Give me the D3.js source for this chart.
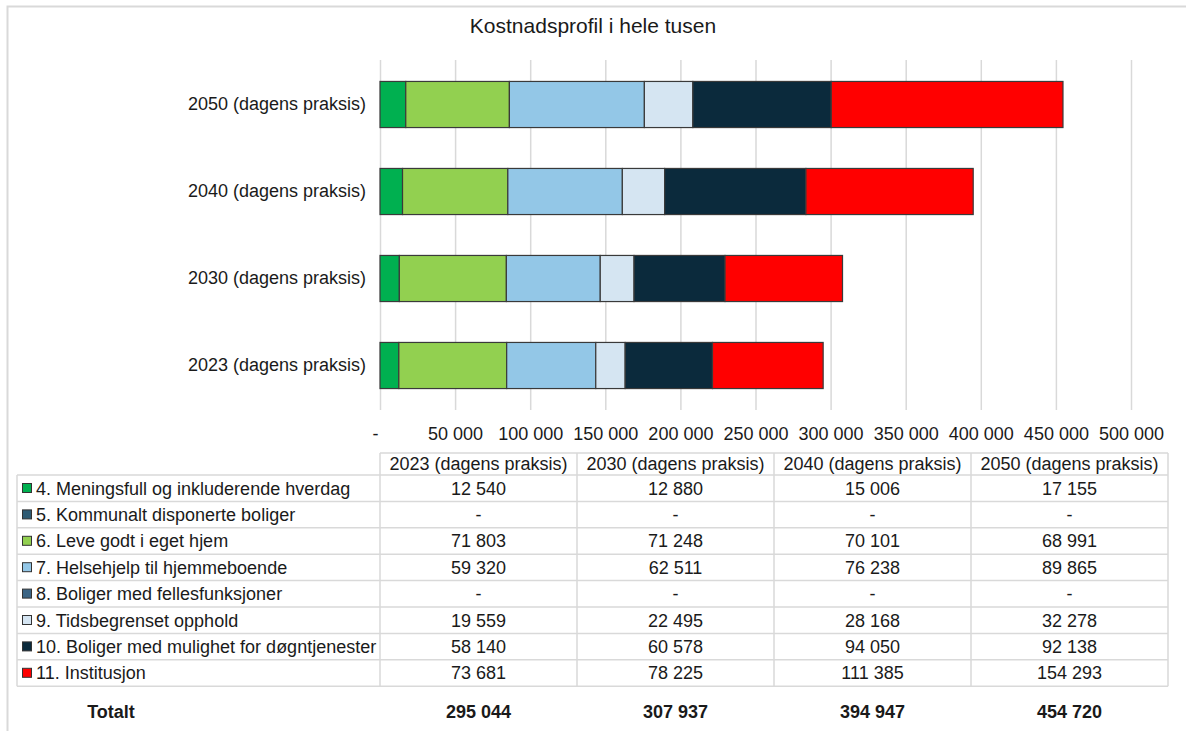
<!DOCTYPE html>
<html>
<head>
<meta charset="utf-8">
<script src="https://cdn.jsdelivr.net/npm/d3@7"></script>
<style>
  body { margin: 0; background: #fff; }
  svg text { font-family: "Liberation Sans", Arial, sans-serif; fill: #1a1a1a; }
</style>
</head>
<body>
<svg id="chart" width="1186" height="731"></svg>
<script>
// scenarios (table column order) and bar order top-to-bottom
const scenarios = ["2023 (dagens praksis)", "2030 (dagens praksis)", "2040 (dagens praksis)", "2050 (dagens praksis)"];
const barOrder = ["2050 (dagens praksis)", "2040 (dagens praksis)", "2030 (dagens praksis)", "2023 (dagens praksis)"];

const seriesNames = [
  "4. Meningsfull og inkluderende hverdag",
  "5. Kommunalt disponerte boliger",
  "6. Leve godt i eget hjem",
  "7. Helsehjelp til hjemmeboende",
  "8. Boliger med fellesfunksjoner",
  "9. Tidsbegrenset opphold",
  "10. Boliger med mulighet for døgntjenester",
  "11. Institusjon"
];
const seriesColors = ["#00b050", "#2e5b73", "#92d050", "#93c7e7", "#3b6585", "#d5e5f2", "#0b2a3c", "#ff0000"];

// values per series, in scenario order 2023, 2030, 2040, 2050
const meningsfull = [12540, 12880, 15006, 17155];
const kommunalt   = [0, 0, 0, 0];
const leveGodt    = [71803, 71248, 70101, 68991];
const helsehjelp  = [59320, 62511, 76238, 89865];
const fellesfunk  = [0, 0, 0, 0];
const tidsbegr    = [19559, 22495, 28168, 32278];
const dogntjen    = [58140, 60578, 94050, 92138];
const institusjon = [73681, 78225, 111385, 154293];
const totals      = [295044, 307937, 394947, 454720];

const seriesValues = [meningsfull, kommunalt, leveGodt, helsehjelp, fellesfunk, tidsbegr, dogntjen, institusjon];
const xTicks = [0, 50000, 100000, 150000, 200000, 250000, 300000, 350000, 400000, 450000, 500000];

const nb = d3.formatLocale({ thousands: "\u00a0", grouping: [3], decimal: ",", currency: ["", ""] });
const fmt = v => v === 0 ? "-" : nb.format(",.0f")(v);

const svg = d3.select("#chart");

// outer frame
svg.append("rect")
  .attr("x", 7.5).attr("y", 6.5).attr("width", 1190).attr("height", 740)
  .attr("fill", "none").attr("stroke", "#d9d9d9").attr("stroke-width", 2);

svg.append("text")
  .attr("x", 593).attr("y", 33).attr("text-anchor", "middle")
  .style("font-size", "21px")
  .text("Kostnadsprofil i hele tusen");

// scales
const x = d3.scaleLinear().domain([0, 500000]).range([380, 1131]);
const y = d3.scaleBand().domain(barOrder).range([61, 409]).paddingInner(0.47).paddingOuter(0.235);

// gridlines
svg.append("g").selectAll("line").data(xTicks).join("line")
  .attr("x1", d => x(d) + 0.5).attr("x2", d => x(d) + 0.5)
  .attr("y1", 60).attr("y2", 410)
  .attr("stroke", "#d9d9d9").attr("stroke-width", 1.5);

// x axis labels
const xAxis = svg.append("g")
  .attr("transform", "translate(0,424)")
  .call(d3.axisBottom(x).tickValues(xTicks).tickSize(0).tickFormat(fmt));
xAxis.select(".domain").remove();
xAxis.selectAll("text").style("font-size", "18px").attr("fill", "#1a1a1a")
  .attr("font-family", "Liberation Sans, Arial, sans-serif");
xAxis.selectAll(".tick text").filter(d => d === 0).attr("dx", -5);

// y axis labels
const yAxis = svg.append("g")
  .attr("transform", "translate(366,0)")
  .call(d3.axisLeft(y).tickSize(0).tickPadding(0));
yAxis.select(".domain").remove();
yAxis.selectAll("text").style("font-size", "18px").attr("fill", "#1a1a1a")
  .attr("font-family", "Liberation Sans, Arial, sans-serif");

// stacked bars
const rows = scenarios.map((s, i) => {
  const r = { scenario: s };
  seriesNames.forEach((n, j) => r[n] = seriesValues[j][i]);
  return r;
});
const stacked = d3.stack().keys(seriesNames)(rows);

svg.append("g").selectAll("g").data(stacked).join("g")
  .attr("fill", (d, i) => seriesColors[i])
  .selectAll("rect").data(d => d.filter(p => p[1] - p[0] > 0)).join("rect")
  .attr("x", d => x(d[0]))
  .attr("width", d => x(d[1]) - x(d[0]))
  .attr("y", d => y(d.data.scenario))
  .attr("height", y.bandwidth())
  .attr("stroke", "#3a3a3a").attr("stroke-width", 1.2);

// data table
const colX = d3.scaleBand().domain(scenarios).range([380, 1168]);
const headerTop = 453, rowTop = 475, rowH = 26.4;
const tableBottom = rowTop + rowH * seriesNames.length;
const grid = svg.append("g").attr("stroke", "#d9d9d9").attr("stroke-width", 1.5);

// header cells
grid.append("line").attr("x1", 380).attr("x2", 1168).attr("y1", headerTop).attr("y2", headerTop);
// horizontal row lines
grid.selectAll(".hr").data(d3.range(seriesNames.length + 1)).join("line")
  .attr("x1", 17).attr("x2", 1168)
  .attr("y1", i => rowTop + i * rowH).attr("y2", i => rowTop + i * rowH);
// vertical lines
grid.append("line").attr("x1", 17).attr("x2", 17).attr("y1", rowTop).attr("y2", tableBottom);
grid.selectAll(".vr").data(scenarios.concat(["end"])).join("line")
  .attr("x1", d => d === "end" ? 1168 : colX(d)).attr("x2", d => d === "end" ? 1168 : colX(d))
  .attr("y1", headerTop).attr("y2", tableBottom);

svg.append("g").selectAll("text").data(scenarios).join("text")
  .attr("x", d => colX(d) + colX.bandwidth() / 2).attr("y", headerTop + 17)
  .attr("text-anchor", "middle").style("font-size", "18px")
  .text(d => d);

// legend keys and series labels
const rowG = svg.append("g").selectAll("g").data(seriesNames).join("g")
  .attr("transform", (d, i) => `translate(0,${rowTop + i * rowH})`);
rowG.append("rect")
  .attr("x", 22.5).attr("y", 8.5).attr("width", 9).attr("height", 9)
  .attr("fill", (d, i) => seriesColors[i]).attr("stroke", "#333").attr("stroke-width", 1);
rowG.append("text")
  .attr("x", 36).attr("y", 19.5).style("font-size", "18px")
  .text(d => d);
rowG.selectAll(".val").data((d, i) => seriesValues[i].map((v, k) => ({ v, s: scenarios[k] })))
  .join("text")
  .attr("x", d => colX(d.s) + colX.bandwidth() / 2).attr("y", 19.5)
  .attr("text-anchor", "middle").style("font-size", "18px")
  .text(d => fmt(d.v));

// totals
svg.append("text")
  .attr("x", 111).attr("y", 718).attr("text-anchor", "middle")
  .style("font-size", "18px").style("font-weight", "bold")
  .text("Totalt");
svg.append("g").selectAll("text").data(totals).join("text")
  .attr("x", (d, i) => colX(scenarios[i]) + colX.bandwidth() / 2).attr("y", 718)
  .attr("text-anchor", "middle").style("font-size", "18px").style("font-weight", "bold")
  .text(d => fmt(d));
</script>
</body>
</html>
